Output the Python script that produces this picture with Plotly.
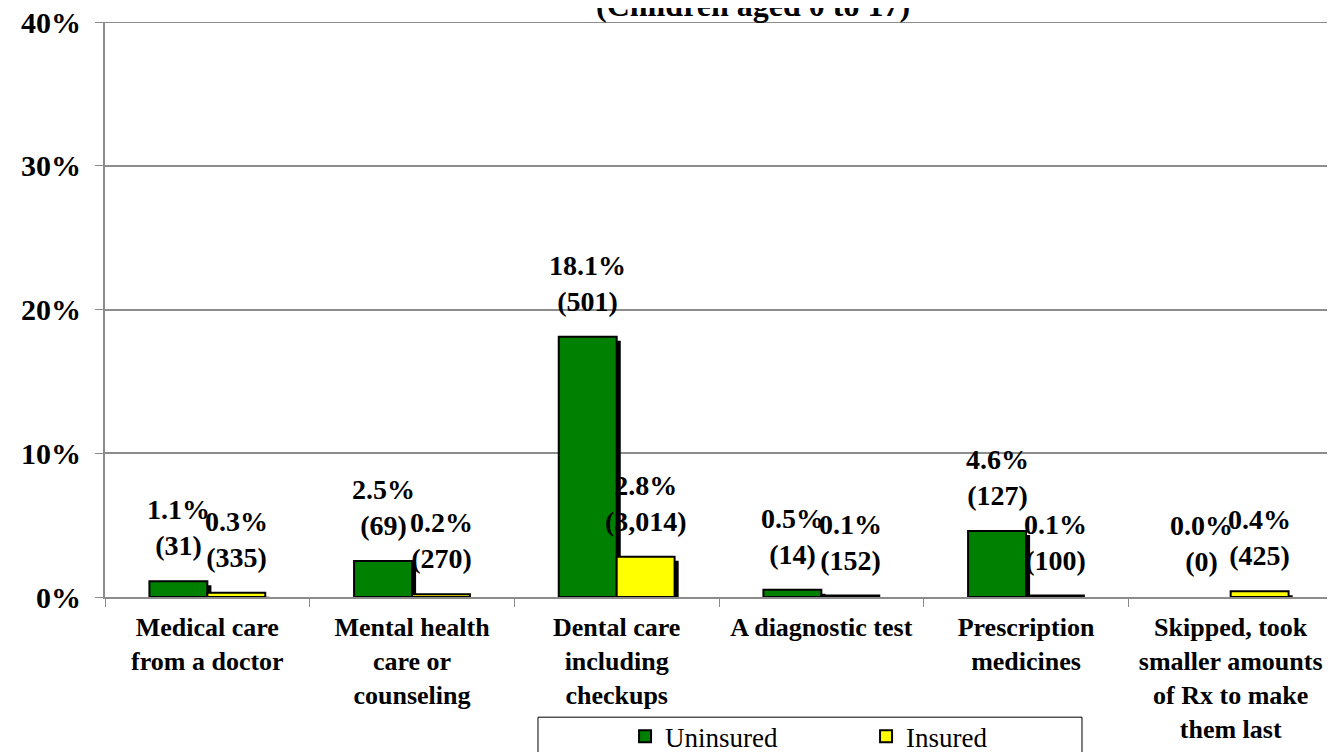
import plotly.graph_objects as go

# categories and values
categories = [
    "Medical care<br>from a doctor",
    "Mental health<br>care or<br>counseling",
    "Dental care<br>including<br>checkups",
    "A diagnostic test",
    "Prescription<br>medicines",
    "Skipped, took<br>smaller amounts<br>of Rx to make<br>them last",
]
uninsured_pct = [1.1, 2.5, 18.1, 0.5, 4.6, 0.0]
uninsured_n = [31, 69, 501, 14, 127, 0]
insured_pct = [0.3, 0.2, 2.8, 0.1, 0.1, 0.4]
insured_n = [335, 270, 3014, 152, 100, 425]
y_ticks = [0, 10, 20, 30, 40]

FONT = "Liberation Serif"
GRID = "#8c8c8c"
BW = 0.283          # bar width in category units
SH_X = 0.02         # shadow shift right
SH_Y = -0.28        # shadow shift down (in % units)

fig = go.Figure()

series = [
    ("Uninsured", uninsured_pct, uninsured_n, "#008000", -BW, -29),
    ("Insured", insured_pct, insured_n, "#FFFF00", 0.0, 29),
]

for name, pct, n, color, off, shift in series:
    # drop shadow behind each bar
    fig.add_trace(go.Bar(
        x=categories, y=pct, base=SH_Y, width=BW, offset=off + SH_X,
        marker=dict(color="black", line=dict(width=0)),
        showlegend=False, hoverinfo="skip",
    ))
    # no outline on empty bars
    outline = [2 if v > 0 else 0 for v in pct]
    fig.add_trace(go.Bar(
        x=categories, y=pct, name=name,
        width=BW, offset=off,
        marker=dict(color=color, line=dict(color="black", width=outline)),
    ))
    # value labels: percent and count
    for cat, p, k in zip(categories, pct, n):
        fig.add_annotation(
            x=cat, y=p, xref="x", yref="y",
            text=f"<b>{p:.1f}%<br>({k:,})</b>",
            showarrow=False, xshift=shift, yshift=18, yanchor="bottom",
            font=dict(family=FONT, size=28, color="black"),
        )

# title, partly cut off at the top as in the original
fig.add_annotation(
    text="<b>(Children aged 0 to 17)</b>", xref="paper", yref="paper",
    x=0.528, y=1, xanchor="center", yanchor="bottom", yshift=-3,
    showarrow=False, font=dict(family=FONT, size=32, color="black"),
)

# top gridline at 40%
fig.add_shape(type="line", xref="paper", yref="y", x0=0, x1=1, y0=40, y1=40,
              line=dict(color=GRID, width=2))

# legend frame
fig.add_shape(type="rect", xref="paper", yref="paper",
              x0=0.3526, x1=0.7956, y0=-0.209, y1=-0.32,
              line=dict(color="black", width=1), fillcolor="white", layer="below")

fig.update_layout(
    width=1327, height=744,
    barmode="overlay",
    plot_bgcolor="white", paper_bgcolor="white",
    margin=dict(l=97, r=2, t=14, b=155, autoexpand=False),
    font=dict(family=FONT, color="black"),
    legend=dict(
        orientation="h", x=0.4235, xanchor="left", y=-0.2003, yanchor="top",
        borderwidth=0, bgcolor="rgba(0,0,0,0)",
        font=dict(family=FONT, size=27, color="black"),
        entrywidth=196, traceorder="normal",
    ),
    xaxis=dict(
        showline=True, linecolor=GRID, linewidth=2,
        ticks="outside", tickson="boundaries", ticklen=8, tickcolor=GRID,
        ticklabelstandoff=6,
        tickfont=dict(family=FONT, size=26, color="black", weight="bold"),
        showgrid=False,
    ),
    yaxis=dict(
        range=[0, 40], tickvals=y_ticks, ticktext=[f"{v}%" for v in y_ticks],
        showline=True, linecolor=GRID, linewidth=2,
        ticks="outside", ticklen=8, tickcolor=GRID,
        showgrid=True, gridcolor=GRID, gridwidth=2,
        ticklabelstandoff=8, zeroline=False, ticklabeloverflow="allow",
        tickfont=dict(family=FONT, size=30, color="black", weight="bold"),
    ),
)

fig.write_html("out.html")
